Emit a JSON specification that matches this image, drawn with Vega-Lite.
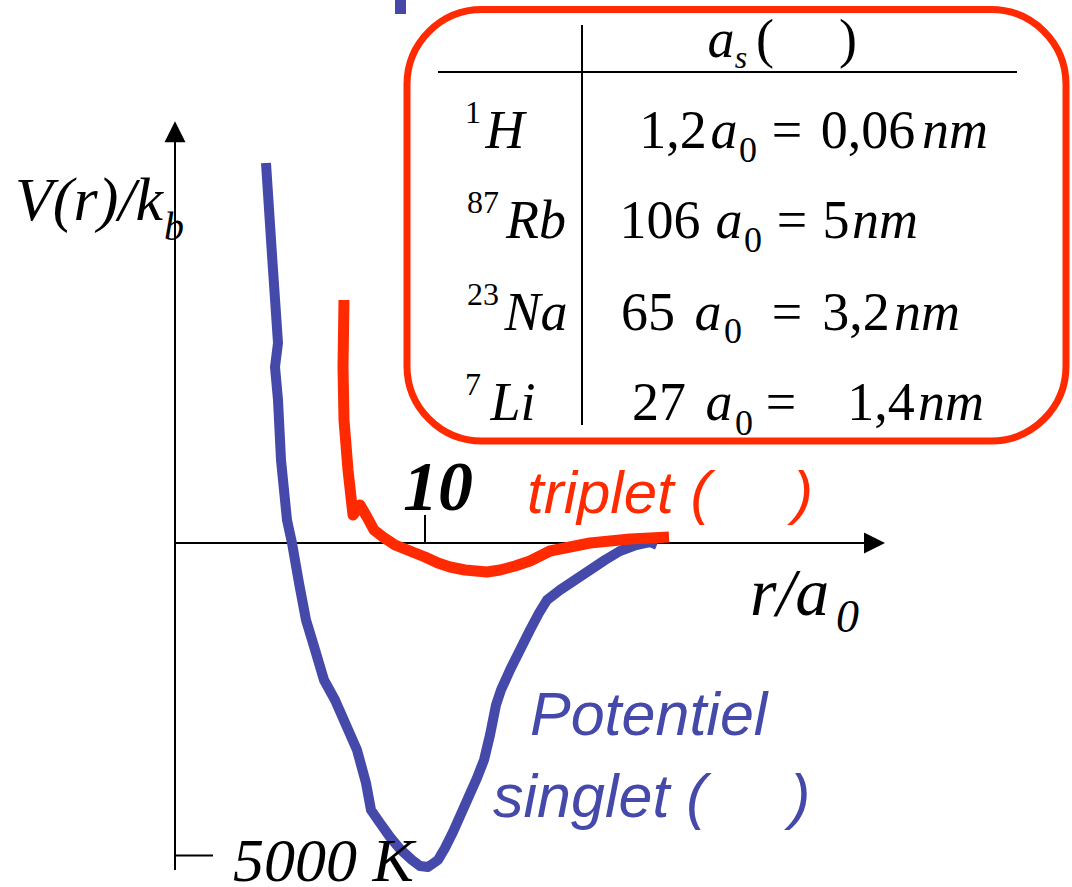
{
  "$schema": "https://vega.github.io/schema/vega-lite/v6.json",
  "width": 1072,
  "height": 887,
  "autosize": {"type": "none"},
  "padding": 0,
  "background": "white",
  "config": {"view": {"stroke": null}},
  "datasets": {
    "singlet": [
      {"r": 3.64, "v": 6080}, {"r": 3.88, "v": 4608}, {"r": 4.12, "v": 3200}, {"r": 4.0, "v": 2816},
      {"r": 4.12, "v": 2288}, {"r": 4.24, "v": 1328}, {"r": 4.48, "v": 368}, {"r": 4.68, "v": 0},
      {"r": 4.96, "v": -640}, {"r": 5.24, "v": -1232}, {"r": 5.52, "v": -1600}, {"r": 5.96, "v": -2192},
      {"r": 6.4, "v": -2512}, {"r": 6.84, "v": -2912}, {"r": 7.28, "v": -3312}, {"r": 7.64, "v": -3840},
      {"r": 7.84, "v": -4272}, {"r": 8.2, "v": -4480}, {"r": 8.6, "v": -4704}, {"r": 9.0, "v": -4896},
      {"r": 9.48, "v": -5072}, {"r": 9.8, "v": -5168}, {"r": 10.12, "v": -5184}, {"r": 10.52, "v": -5072},
      {"r": 10.8, "v": -4880}, {"r": 11.12, "v": -4624}, {"r": 11.6, "v": -4192}, {"r": 12.08, "v": -3760},
      {"r": 12.36, "v": -3472}, {"r": 12.6, "v": -3072}, {"r": 12.84, "v": -2592}, {"r": 13.04, "v": -2352},
      {"r": 13.4, "v": -2032}, {"r": 13.8, "v": -1712}, {"r": 14.2, "v": -1392}, {"r": 14.56, "v": -1120},
      {"r": 14.88, "v": -912}, {"r": 15.4, "v": -752}, {"r": 16.0, "v": -592}, {"r": 16.6, "v": -432},
      {"r": 17.2, "v": -272}, {"r": 17.8, "v": -128}, {"r": 18.44, "v": -32}, {"r": 19.0, "v": 16},
      {"r": 19.28, "v": -32}
    ],
    "triplet": [
      {"r": 6.76, "v": 3888}, {"r": 6.72, "v": 2816}, {"r": 6.76, "v": 1968}, {"r": 6.92, "v": 1168},
      {"r": 7.12, "v": 448}, {"r": 7.4, "v": 608}, {"r": 7.68, "v": 416}, {"r": 7.96, "v": 208},
      {"r": 8.32, "v": 96}, {"r": 8.8, "v": -32}, {"r": 9.4, "v": -128}, {"r": 10.0, "v": -224},
      {"r": 10.52, "v": -320}, {"r": 11.0, "v": -384}, {"r": 11.6, "v": -432}, {"r": 12.48, "v": -464},
      {"r": 13.0, "v": -432}, {"r": 13.6, "v": -368}, {"r": 14.2, "v": -288}, {"r": 14.6, "v": -208},
      {"r": 15.0, "v": -128}, {"r": 15.8, "v": -64}, {"r": 16.6, "v": 0}, {"r": 17.4, "v": 32},
      {"r": 18.2, "v": 64}, {"r": 19.0, "v": 80}, {"r": 19.76, "v": 96}
    ],
    "lines": [
      {"r": 0, "v": 6432, "r2": 0, "v2": -5232},
      {"r": 0, "v": 0, "r2": 27.64, "v2": 0},
      {"r": 0, "v": -5000, "r2": 1.52, "v2": -5000},
      {"r": 10, "v": 0, "r2": 10, "v2": 448},
      {"r": 16.28, "v": 8288, "r2": 16.28, "v2": 1888},
      {"r": 10.52, "v": 7536, "r2": 33.68, "v2": 7536}
    ],
    "arrowUp": [{"r": 0, "v": 6581}],
    "arrowRight": [{"r": 27.98, "v": 0}],
    "box": [{"r": 9.28, "v": 8536, "r2": 35.64, "v2": 1632}],
    "bar": [{"r": 8.8, "v": 8700, "r2": 9.24, "v2": 8464}],
    "serifItalic": [
      {"t": "V(r)/k", "r": -6.4, "v": 5168},
      {"t": "5000 K", "r": 2.32, "v": -5400}
    ],
    "serifItalicLarge": [
      {"t": "r/a", "r": 23.0, "v": -1152}
    ],
    "serifItalicSmall": [
      {"t": "b", "r": -0.44, "v": 4848}
    ],
    "serifItalicSub": [
      {"t": "0", "r": 26.44, "v": -1424}
    ],
    "boldTen": [
      {"t": "10", "r": 9.12, "v": 528}
    ],
    "redLabel": [
      {"t": "triplet (", "r": 14.08, "v": 480},
      {"t": ")", "r": 24.72, "v": 480}
    ],
    "blueLabel": [
      {"t": "Potentiel", "r": 14.2, "v": -3072},
      {"t": "singlet (", "r": 12.72, "v": -4384},
      {"t": ")", "r": 24.6, "v": -4384}
    ],
    "tableItalic": [
      {"t": "a", "r": 21.84, "v": 7776},
      {"t": "H", "r": 13.2, "v": 6320},
      {"t": "a", "r": 21.96, "v": 6320},
      {"t": "nm", "r": 31.2, "v": 6320},
      {"t": "Rb", "r": 14.44, "v": 4880},
      {"t": "a", "r": 22.16, "v": 4880},
      {"t": "nm", "r": 28.4, "v": 4880},
      {"t": "Na", "r": 14.44, "v": 3408},
      {"t": "a", "r": 21.32, "v": 3408},
      {"t": "nm", "r": 30.08, "v": 3408},
      {"t": "Li", "r": 13.52, "v": 1968},
      {"t": "a", "r": 21.76, "v": 1968},
      {"t": "nm", "r": 31.04, "v": 1968}
    ],
    "tableUpright": [
      {"t": "(", "r": 23.6, "v": 7776},
      {"t": ")", "r": 26.92, "v": 7776},
      {"t": "1,2", "r": 19.92, "v": 6320},
      {"t": "=", "r": 24.48, "v": 6320},
      {"t": "0,06", "r": 27.72, "v": 6320},
      {"t": "106", "r": 19.4, "v": 4880},
      {"t": "=", "r": 24.68, "v": 4880},
      {"t": "5", "r": 26.44, "v": 4880},
      {"t": "65", "r": 18.92, "v": 3408},
      {"t": "=", "r": 24.48, "v": 3408},
      {"t": "3,2", "r": 27.24, "v": 3408},
      {"t": "27", "r": 19.36, "v": 1968},
      {"t": "=", "r": 24.24, "v": 1968},
      {"t": "1,4", "r": 28.24, "v": 1968}
    ],
    "tableSup": [
      {"t": "1", "r": 11.92, "v": 6720},
      {"t": "87", "r": 12.32, "v": 5280},
      {"t": "23", "r": 12.32, "v": 3808},
      {"t": "7", "r": 11.92, "v": 2368}
    ],
    "tableSub": [
      {"t": "0", "r": 22.92, "v": 6096},
      {"t": "0", "r": 23.12, "v": 4656},
      {"t": "0", "r": 22.32, "v": 3200},
      {"t": "0", "r": 22.76, "v": 1728}
    ],
    "tableSubItalic": [
      {"t": "s", "r": 22.64, "v": 7600}
    ]
  },
  "encoding": {
    "x": {"field": "r", "type": "quantitative", "scale": {"domain": [-7, 35.88], "nice": false, "zero": false}, "axis": null},
    "y": {"field": "v", "type": "quantitative", "scale": {"domain": [-5504, 8688], "nice": false, "zero": false}, "axis": null}
  },
  "layer": [
    {
      "data": {"name": "box"},
      "mark": {"type": "rect", "filled": false, "stroke": "#ff2a00", "strokeWidth": 7, "cornerRadius": 75},
      "encoding": {"x2": {"field": "r2"}, "y2": {"field": "v2"}}
    },
    {
      "data": {"name": "bar"},
      "mark": {"type": "rect", "color": "#4548a8"},
      "encoding": {"x2": {"field": "r2"}, "y2": {"field": "v2"}}
    },
    {
      "data": {"name": "lines"},
      "mark": {"type": "rule", "color": "black", "strokeWidth": 2},
      "encoding": {"x2": {"field": "r2"}, "y2": {"field": "v2"}}
    },
    {
      "data": {"name": "arrowUp"},
      "mark": {"type": "point", "shape": "M0,-1L1,1L-1,1Z", "filled": true, "color": "black", "size": 441, "opacity": 1}
    },
    {
      "data": {"name": "arrowRight"},
      "mark": {"type": "point", "shape": "M1,0L-1,-1L-1,1Z", "filled": true, "color": "black", "size": 441, "opacity": 1}
    },
    {
      "data": {"name": "singlet"},
      "mark": {"type": "line", "color": "#4549a9", "strokeWidth": 10, "strokeJoin": "round"},
      "encoding": {"order": {"value": null}}
    },
    {
      "data": {"name": "triplet"},
      "mark": {"type": "line", "color": "#ff2a00", "strokeWidth": 11, "strokeJoin": "round"},
      "encoding": {"order": {"value": null}}
    },
    {
      "data": {"name": "serifItalic"},
      "mark": {"type": "text", "font": "Liberation Serif", "fontStyle": "italic", "fontSize": 62, "align": "left", "baseline": "alphabetic", "color": "black"},
      "encoding": {"text": {"field": "t"}}
    },
    {
      "data": {"name": "serifItalicLarge"},
      "mark": {"type": "text", "font": "Liberation Serif", "fontStyle": "italic", "fontSize": 68, "align": "left", "baseline": "alphabetic", "color": "black"},
      "encoding": {"text": {"field": "t"}}
    },
    {
      "data": {"name": "serifItalicSmall"},
      "mark": {"type": "text", "font": "Liberation Serif", "fontStyle": "italic", "fontSize": 40, "align": "left", "baseline": "alphabetic", "color": "black"},
      "encoding": {"text": {"field": "t"}}
    },
    {
      "data": {"name": "serifItalicSub"},
      "mark": {"type": "text", "font": "Liberation Serif", "fontStyle": "italic", "fontSize": 46, "align": "left", "baseline": "alphabetic", "color": "black"},
      "encoding": {"text": {"field": "t"}}
    },
    {
      "data": {"name": "boldTen"},
      "mark": {"type": "text", "font": "Liberation Serif", "fontStyle": "italic", "fontWeight": "bold", "fontSize": 70, "align": "left", "baseline": "alphabetic", "color": "black"},
      "encoding": {"text": {"field": "t"}}
    },
    {
      "data": {"name": "redLabel"},
      "mark": {"type": "text", "font": "Liberation Sans", "fontStyle": "italic", "fontSize": 60, "align": "left", "baseline": "alphabetic", "color": "#ff2a00"},
      "encoding": {"text": {"field": "t"}}
    },
    {
      "data": {"name": "blueLabel"},
      "mark": {"type": "text", "font": "Liberation Sans", "fontStyle": "italic", "fontSize": 61, "align": "left", "baseline": "alphabetic", "color": "#4549a9"},
      "encoding": {"text": {"field": "t"}}
    },
    {
      "data": {"name": "tableItalic"},
      "mark": {"type": "text", "font": "Liberation Serif", "fontStyle": "italic", "fontSize": 54, "align": "center", "baseline": "alphabetic", "color": "black"},
      "encoding": {"text": {"field": "t"}}
    },
    {
      "data": {"name": "tableUpright"},
      "mark": {"type": "text", "font": "Liberation Serif", "fontSize": 54, "align": "center", "baseline": "alphabetic", "color": "black"},
      "encoding": {"text": {"field": "t"}}
    },
    {
      "data": {"name": "tableSup"},
      "mark": {"type": "text", "font": "Liberation Serif", "fontSize": 32, "align": "center", "baseline": "alphabetic", "color": "black"},
      "encoding": {"text": {"field": "t"}}
    },
    {
      "data": {"name": "tableSub"},
      "mark": {"type": "text", "font": "Liberation Serif", "fontSize": 36, "align": "center", "baseline": "alphabetic", "color": "black"},
      "encoding": {"text": {"field": "t"}}
    },
    {
      "data": {"name": "tableSubItalic"},
      "mark": {"type": "text", "font": "Liberation Serif", "fontStyle": "italic", "fontSize": 32, "align": "center", "baseline": "alphabetic", "color": "black"},
      "encoding": {"text": {"field": "t"}}
    }
  ]
}
